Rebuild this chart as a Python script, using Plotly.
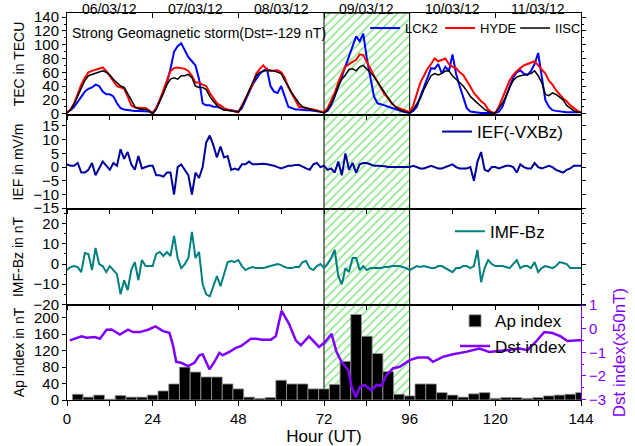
import plotly.graph_objects as go
from plotly.subplots import make_subplots

# ---------------- data ----------------
hours = list(range(0, 145))

tec_lck2 = [2, 5, 10, 17, 25, 32, 36, 38, 42, 40, 32, 28, 28, 25, 15, 8, 6, 5, 5, 4, 4, 4, 4, 3,
            1, 8, 20, 30, 45, 65, 90, 98, 102, 92, 82, 76, 70, 50, 15, 12, 12, 10, 10, 8, 6, 5, 5, 4,
            3, 8, 20, 30, 42, 50, 58, 62, 65, 40, 32, 30, 40, 25, 10, 8, 6, 6, 5, 5, 5, 4, 4, 3,
            2, 4, 12, 25, 40, 55, 70, 85, 100, 112, 105, 116, 80, 55, 25, 15, 14, 12, 10, 8, 6, 4, 3, 2,
            1, 4, 10, 25, 40, 52, 66, 65, 72, 58, 68, 62, 86, 58, 40, 25, 8, 3, 2, 2, 1, 1, 1, 1,
            1, 3, 10, 25, 40, 52, 60, 63, 58, 56, 62, 72, 88, 50, 20, 10, 5, 4, 3, 3, 2, 2, 2, 2, 2]

tec_hyde = [1, 6, 15, 28, 42, 52, 60, 62, 64, 66, 67, 62, 55, 48, 40, 38, 36, 25, 12, 9, 8, 8, 8, 5,
            0, 8, 20, 35, 50, 62, 66, 67, 66, 65, 62, 55, 45, 45, 42, 40, 30, 22, 15, 12, 8, 6, 5, 3,
            2, 12, 22, 32, 42, 58, 65, 70, 64, 62, 62, 63, 60, 52, 38, 28, 18, 10, 9, 8, 8, 7, 5, 3,
            2, 8, 18, 30, 45, 58, 68, 72, 75, 78, 86, 85, 76, 65, 55, 46, 35, 28, 22, 15, 10, 8, 6, 4,
            2, 12, 30, 45, 55, 65, 72, 80, 76, 78, 80, 72, 68, 66, 60, 56, 48, 39, 30, 24, 18, 14, 6, 2,
            1, 10, 22, 35, 48, 56, 62, 66, 70, 72, 74, 76, 70, 64, 58, 48, 42, 34, 28, 22, 18, 12, 8, 4, 2]

tec_iisc = [1, 6, 14, 25, 38, 48, 55, 57, 58, 60, 62, 60, 56, 50, 45, 40, 38, 30, 20, 10, 7, 6, 6, 4,
            0, 6, 18, 30, 42, 50, 52, 50, 55, 55, 57, 52, 40, 38, 38, 35, 25, 18, 12, 8, 5, 5, 4, 3,
            2, 10, 22, 32, 45, 55, 60, 62, 63, 63, 62, 60, 58, 48, 40, 30, 22, 15, 10, 8, 6, 5, 4, 3,
            1, 5, 14, 26, 40, 50, 56, 64, 65, 62, 68, 70, 65, 60, 54, 46, 38, 30, 22, 15, 10, 6, 4, 2,
            1, 6, 14, 22, 35, 46, 55, 58, 56, 58, 62, 62, 55, 50, 45, 40, 33, 25, 20, 15, 10, 6, 3, 1,
            1, 8, 15, 25, 38, 48, 53, 55, 56, 57, 58, 62, 55, 45, 28, 26, 30, 28, 24, 20, 12, 8, 4, 2, 2]

ief = [1, 0.5, 0.5, 1.5, -2, -2, -1, 1.5, -3, -0.5,
       2, 0.5, -1, 1.5, 0.5, 6.5, 3, 5.5, 1, -1,
       4, -0.5, 0, 0.5, 0.5, -3, -3, -3.5, -2, -2,
       -10, 0, 1, -1, -3, -10, -2, -4, 0, 9,
       11.5, 8, 3.5, 7.5, 3.5, 4, -1, -0.5, -1, 1,
       1, 2, 1, 1, 1.2, 1.2, 1, 0.8, 0.5, 0,
       -0.5, 0, 0.5, 0.5, 0.8, 0.8, 0, -0.5, -1, 1,
       1.5, 0, 0.5, -1, -0.5, -2, 2, -3, 5, -1,
       1.5, -2, 1, 1.5, 1.5, 1, 0.5, 0.5, 0.5, 0.3,
       0, 0, 0, 0, 0, 0, 0, 0.5, 0, -0.5,
       -0.5, 0, 0.5, 0, -0.5, -0.5, 0, 0.5, 1, 0,
       -0.5, -0.5, -0.5, 0, -5, 2, 5.5, -1, -1.5, 0,
       0, -0.5, 0, 0.5, 0.5, 0, -2, 1, 0, -0.5,
       -0.5, 1.5, 0, -0.5, 0, 0.5, 0, -1, -1.5, -2,
       -1, -0.5, 0.5, 0.5, 0.5]

imf_bz = [-3, -1.5, -1, -1.5, -4, 5.5, 5, -3, 8, 0,
          -1, -4, -1, -3, -5, -15, -8, -13, -3, 1,
          -8, 2, -1, -1, -1, 5, 6, 4, 6, 4,
          14, 3, -2, 0, 3, 16, 3, 6, -10, -15,
          -16, -11, -6, -11, -5, 1, 1.5, 1, 2, -1,
          -3, -2, -1.5, -2, -2, -2, -1.5, -1, -0.5, 0,
          -0.5, -1.5, -2, -2, -1.5, -1.5, 1, 1.5, -2, -3,
          -1, 0, -2, 0, 3, 7, -6, -10, -2, -4,
          3, 3, -3, -1, -3, -2, -2, -2, -2, -1.5,
          -1.5, -1, -1, -1, -1.5, -2, -3, -2, -1, -1.5,
          -1, -1.5, -2, -2, -1, -1, -2, -3, -4, -2,
          -2, -1, -1, -2, -1, 7, -9, -2, 2, 0,
          -1, -1, -1, -1.5, -2, 0, 2, -2, -1, -1,
          -2, 1, -4, -2, -1, -1.5, -2, -1, 1, 0.5,
          0, -2, -2, -2, -2]

ap_hours = [3, 6, 9, 12, 15, 18, 21, 24, 27, 30, 33, 36, 39, 42, 45, 48,
            51, 54, 57, 60, 63, 66, 69, 72, 75, 78, 81, 84, 87, 90, 93, 96,
            99, 102, 105, 108, 111, 114, 117, 120, 123, 126, 129, 132, 135, 138, 141, 144]
ap_index = [14, 7, 12, 2, 11, 7, 7, 12, 22, 39, 80, 68, 56, 56, 39, 27,
            7, 4, 6, 48, 39, 39, 27, 27, 38, 94, 208, 155, 113, 69, 14, 10,
            39, 39, 18, 12, 7, 15, 18, 4, 6, 6, 4, 6, 10, 12, 14, 18]

dst_hours = [0.8, 2.7, 4.1, 5.5, 7.8, 9.2, 11.1, 12.5, 14.8, 17.1, 18.5, 20.4, 22.7, 24.8, 26.9,
             28.7, 29.7, 30.6, 32, 33.9, 35.7, 37.1, 38, 39.9, 41.3, 42.7, 43.6, 45.5, 47.3, 48.7,
             51.5, 52.9, 54.8, 57.1, 58.5, 60.1, 62.2, 64.1, 65.5, 67.8, 69.2, 70.6, 72.3, 74.1,
             75.5, 76.9, 78.8, 79.7, 80.9, 82, 83.4, 85.3, 86.7, 88.1, 89.5, 91.3, 93.2, 96, 98.3,
             101.1, 102.5, 105.3, 108.1, 111.8, 115.5, 118.3, 123, 126.7, 129, 131.3, 133.7, 136,
             138.3, 140.2, 143.4, 144]
dst_index = [-0.49, -0.38, -0.32, -0.38, -0.35, -0.42, -0.04, -0.03, -0.24, -0.04, -0.14, -0.14, -0.04, 0.1, -0.1,
             -0.17, -0.7, -1.4, -1.44, -1.58, -1.44, -1.12, -1.08, -1.72, -1.4, -1.02, -1.12, -0.98, -0.81, -0.74,
             -0.42, -0.42, -0.46, -0.46, -0.32, 0.77, 0.21, -0.49, -0.7, -0.32, -0.56, -0.77, -0.56, -0.21,
             -0.98, -1.4, -1.75, -2.45, -2.9, -2.48, -2.38, -2.62, -2.38, -2.42, -1.96, -1.68, -1.61, -1.33, -1.22,
             -1.22, -1.4, -1.19, -1.08, -0.98, -0.84, -0.98, -0.91, -0.84, -0.91, -0.56, -0.14, -0.18,
             -0.32, -0.52, -0.49, -0.49]

date_labels = ["06/03/12", "07/03/12", "08/03/12", "09/03/12", "10/03/12", "11/03/12"]
date_centers = [12, 36, 60, 84, 108, 132]
day_ticks = [0, 24, 48, 72, 96, 120, 144]
storm_window = [72, 96]

tec_range = [-2, 146]
ief_range = [-15.3, 19]
imf_range = [-20.3, 27.3]
ap_range = [0, 231]
dst_range = [-3.02, 1.01]

# ---------------- figure ----------------
FONT = "Liberation Sans, Arial, sans-serif"
PURPLE = "#8000ff"
HATCH = "#22d022"

fig = make_subplots(rows=4, cols=1, shared_xaxes=True, vertical_spacing=0,
                    specs=[[{}], [{}], [{}], [{"secondary_y": True}]])

# hatched storm window in every panel (drawn first, behind data)
for row, rng in zip([1, 2, 3, 4], [tec_range, ief_range, imf_range, ap_range]):
    fig.add_trace(go.Bar(
        x=[(storm_window[0] + storm_window[1]) / 2], y=[rng[1] - rng[0]], base=[rng[0]],
        width=[storm_window[1] - storm_window[0]],
        marker=dict(color="rgba(0,0,0,0)", line=dict(color="black", width=1),
                    pattern=dict(shape="/", fgcolor=HATCH, size=6, solidity=0.28)),
        showlegend=False, hoverinfo="skip"), row=row, col=1)

fig.add_trace(go.Scatter(x=hours, y=tec_lck2, mode="lines", name="LCK2",
                         line=dict(color="#0000ff", width=2), legend="legend"), row=1, col=1)
fig.add_trace(go.Scatter(x=hours, y=tec_hyde, mode="lines", name="HYDE",
                         line=dict(color="#ff0000", width=2), legend="legend"), row=1, col=1)
fig.add_trace(go.Scatter(x=hours, y=tec_iisc, mode="lines", name="IISC",
                         line=dict(color="#000000", width=1.5), legend="legend"), row=1, col=1)

fig.add_trace(go.Scatter(x=hours, y=ief, mode="lines", name="IEF(-VXBz)",
                         line=dict(color="#00009c", width=2), legend="legend2"), row=2, col=1)

fig.add_trace(go.Scatter(x=hours, y=imf_bz, mode="lines", name="IMF-Bz",
                         line=dict(color="#008080", width=2), legend="legend3"), row=3, col=1)

fig.add_trace(go.Bar(x=ap_hours, y=ap_index, width=3, name="Ap index",
                     marker=dict(color="black", line=dict(color="#9a9a9a", width=0.8)),
                     legend="legend4"), row=4, col=1, secondary_y=False)
fig.add_trace(go.Scatter(x=dst_hours, y=dst_index, mode="lines", name="Dst index",
                         line=dict(color=PURPLE, width=2.5), legend="legend4"),
              row=4, col=1, secondary_y=True)

tick_font = dict(family=FONT, size=15, color="black")
title_font = dict(family=FONT, size=14, color="black")

common_x = dict(domain=[0, 1], range=[0, 144], showline=True, linecolor="black", linewidth=1, mirror=True,
                ticks="outside", tickcolor="black", showgrid=False, zeroline=False,
                tickfont=tick_font, automargin=False)
for ax in ["xaxis", "xaxis2", "xaxis3"]:
    fig.layout[ax].update(**common_x, ticklen=4, dtick=12, tick0=0, showticklabels=False)
fig.layout.xaxis4.update(**common_x, tickvals=day_ticks, ticklen=5,
                         minor=dict(dtick=12, tick0=0, ticklen=5, ticks="outside", tickcolor="black"),
                         title=dict(text="Hour (UT)", font=dict(family=FONT, size=17, color="black"),
                                    standoff=2))

common_y = dict(showline=True, linecolor="black", linewidth=1, ticks="outside", ticklen=4,
                tickcolor="black", showgrid=False, zeroline=False, tickfont=tick_font, automargin=False)
fig.update_layout(
    yaxis=dict(**common_y, domain=[0.7364, 1.0], range=tec_range, tickvals=[0, 20, 40, 60, 80, 100, 120, 140],
               mirror="ticks", minor=dict(dtick=10, ticklen=2, ticks="outside", tickcolor="black"),
               title=dict(text="TEC in TECU", font=title_font, standoff=6)),
    yaxis2=dict(**common_y, domain=[0.4935, 0.7364], range=ief_range, tickvals=[-15, -10, -5, 0, 5, 10, 15],
                mirror="ticks", title=dict(text="IEF in mV/m", font=title_font, standoff=6)),
    yaxis3=dict(**common_y, domain=[0.2455, 0.4935], range=imf_range, tickvals=[-20, -10, 0, 10, 20],
                mirror="ticks", minor=dict(dtick=5, ticklen=2, ticks="outside", tickcolor="black"),
                title=dict(text="IMF-Bz in nT", font=title_font, standoff=6)),
    yaxis4=dict(**common_y, domain=[0.0, 0.2455], range=ap_range, tickvals=[0, 40, 80, 120, 160, 200],
                mirror=False, title=dict(text="Ap index in nT", font=title_font, standoff=6)),
    yaxis5=dict(range=dst_range, tickvals=[-3, -2, -1, 0, 1], showline=True, linecolor=PURPLE, linewidth=1,
                ticks="outside", ticklen=4, tickcolor=PURPLE, showgrid=False, zeroline=False,
                tickfont=dict(family=FONT, size=15, color=PURPLE), automargin=False,
                minor=dict(dtick=0.5, ticklen=2, ticks="outside", tickcolor=PURPLE),
                title=dict(text="Dst index(x50nT)", font=dict(family=FONT, size=17, color=PURPLE), standoff=8)),
)

# top axis with day boundaries
fig.update_layout(xaxis5=dict(overlaying="x", anchor="y", side="top", domain=[0, 1], range=[0, 144],
                              tickvals=day_ticks, ticks="inside", ticklen=5, tickcolor="black",
                              showticklabels=False, showgrid=False, zeroline=False, showline=False,
                              automargin=False))
fig.add_trace(go.Scatter(x=[None], y=[None], xaxis="x5", yaxis="y", showlegend=False, hoverinfo="skip"))

annotations = []
for xc, lab in zip(date_centers, date_labels):
    annotations.append(dict(x=xc, y=1.0, xref="x", yref="paper", yshift=4, text=lab, showarrow=False,
                            xanchor="center", yanchor="middle", font=dict(family=FONT, size=14, color="black")))
annotations.append(dict(x=0.006, y=0.948, xref="paper", yref="paper", text="Strong Geomagnetic storm(Dst=-129 nT)",
                        showarrow=False, xanchor="left", yanchor="middle",
                        font=dict(family=FONT, size=14, color="black")))

legend_common = dict(bgcolor="rgba(0,0,0,0)", borderwidth=0, xanchor="left")
fig.update_layout(
    annotations=annotations,
    barmode="overlay",
    width=635, height=446,
    margin=dict(l=67, r=54, t=13, b=46, autoexpand=False),
    paper_bgcolor="white", plot_bgcolor="white",
    font=dict(family=FONT, color="black"),
    legend=dict(**legend_common, x=0.58, y=0.961, yanchor="middle", orientation="h",
                font=dict(family=FONT, size=13), entrywidth=30, itemwidth=30),
    legend2=dict(**legend_common, x=0.72, y=0.6925, yanchor="middle", font=dict(family=FONT, size=17)),
    legend3=dict(**legend_common, x=0.745, y=0.435, yanchor="middle", font=dict(family=FONT, size=17)),
    legend4=dict(**legend_common, x=0.755, y=0.25, yanchor="top", font=dict(family=FONT, size=17),
                 tracegroupgap=0),
    showlegend=True,
)

fig.write_html("out.html")
